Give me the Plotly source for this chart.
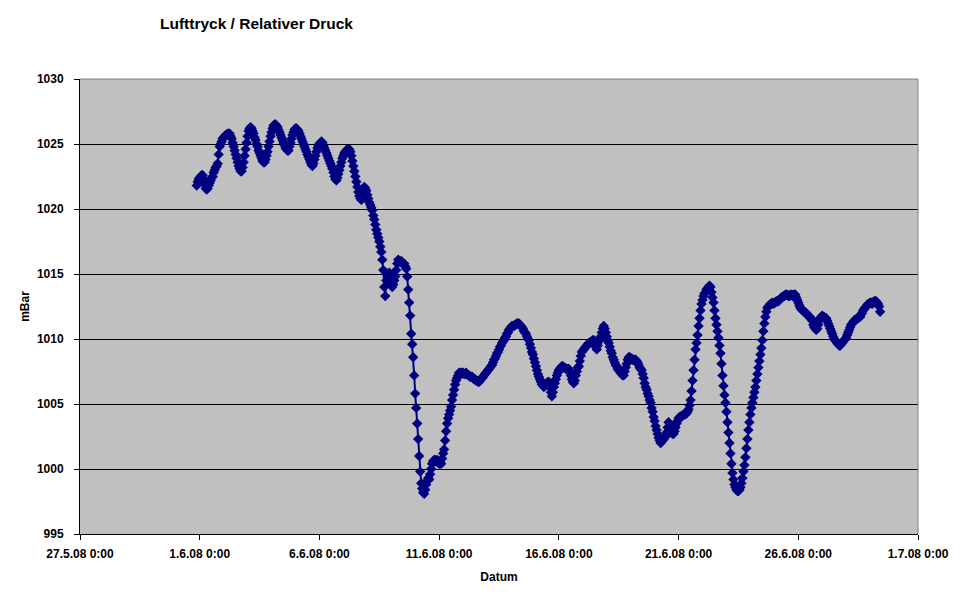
import pandas as pd
import plotly.graph_objects as go

# ---------------- text ----------------
chart_title = "Lufttryck / Relativer Druck"
x_title = "Datum"
y_title = "mBar"

# ---------------- axes ----------------
x_range = ["2008-05-27 00:00", "2008-07-01 00:00"]
x_tick0 = "2008-05-27 00:00"
x_tick_days = 5
y_ticks = [995, 1000, 1005, 1010, 1015, 1020, 1025, 1030]

# ---------------- data: hourly pressure readings (mBar), first reading 31.5.08 21:00 ----------------
series_start = "2008-05-31 21:00"
p_3105 = [1021.8, 1022.1, 1022.3]
p_0106 = [1022.4, 1022.5, 1022.6, 1022.6, 1022.3, 1021.9, 1021.6, 1021.5, 1021.6, 1021.8, 1022.0, 1022.2,
          1022.4, 1022.5, 1022.8, 1023.0, 1023.2, 1023.3, 1023.5, 1024.2, 1024.8, 1025.0, 1025.2, 1025.4]
p_0206 = [1025.5, 1025.6, 1025.7, 1025.7, 1025.8, 1025.8, 1025.8, 1025.6, 1025.4, 1025.1, 1024.8, 1024.5,
          1024.2, 1023.9, 1023.6, 1023.3, 1023.1, 1022.9, 1022.9, 1023.2, 1023.6, 1024.1, 1024.6, 1025.1]
p_0306 = [1025.6, 1026.0, 1026.2, 1026.3, 1026.2, 1026.0, 1025.8, 1025.5, 1025.3, 1025.0, 1024.8, 1024.5,
          1024.3, 1024.1, 1023.9, 1023.7, 1023.6, 1023.6, 1023.8, 1024.1, 1024.4, 1024.8, 1025.2, 1025.6]
p_0406 = [1025.9, 1026.2, 1026.4, 1026.5, 1026.5, 1026.4, 1026.3, 1026.1, 1025.9, 1025.7, 1025.5, 1025.3,
          1025.1, 1024.9, 1024.7, 1024.6, 1024.5, 1024.5, 1024.8, 1025.1, 1025.4, 1025.7, 1025.9, 1026.1]
p_0506 = [1026.2, 1026.2, 1026.1, 1026.0, 1025.8, 1025.6, 1025.4, 1025.2, 1025.0, 1024.8, 1024.6, 1024.4,
          1024.2, 1024.0, 1023.8, 1023.6, 1023.4, 1023.3, 1023.5, 1023.8, 1024.1, 1024.4, 1024.7, 1024.9]
p_0606 = [1025.0, 1025.1, 1025.2, 1025.1, 1024.9, 1024.7, 1024.5, 1024.3, 1024.1, 1023.9, 1023.7, 1023.5,
          1023.3, 1023.1, 1022.8, 1022.5, 1022.3, 1022.2, 1022.4, 1022.7, 1023.0, 1023.3, 1023.6, 1023.9]
p_0706 = [1024.1, 1024.3, 1024.4, 1024.5, 1024.6, 1024.6, 1024.6, 1024.4, 1024.1, 1023.7, 1023.3, 1022.9,
          1022.5, 1022.1, 1021.7, 1021.3, 1021.0, 1020.8, 1020.7, 1021.0, 1021.4, 1021.7, 1021.6, 1021.4]
p_0806 = [1021.1, 1020.8, 1020.5, 1020.3, 1020.1, 1019.9, 1019.5, 1019.2, 1018.8, 1018.4, 1018.1, 1017.8,
          1017.5, 1017.1, 1016.7, 1016.1, 1015.3, 1014.0, 1013.3, 1014.5, 1015.0, 1014.8, 1015.1, 1014.6]
p_0906 = [1014.2, 1014.0, 1014.2, 1014.5, 1014.8, 1015.3, 1015.8, 1016.1, 1016.0, 1015.9, 1016.0, 1015.9,
          1015.8, 1015.8, 1015.6, 1015.4, 1014.8, 1013.8, 1012.8, 1011.8, 1010.4, 1009.6, 1008.6, 1007.2]
p_1006 = [1005.8, 1004.7, 1003.5, 1002.3, 1001.0, 999.8, 998.9, 998.5, 998.2, 998.1, 998.4, 998.8,
          999.1, 999.3, 999.2, 999.6, 1000.0, 1000.4, 1000.6, 1000.7, 1000.7, 1000.6, 1000.7, 1000.5]
p_1106 = [1000.4, 1000.6, 1000.4, 1000.8, 1001.2, 1001.5, 1002.2, 1002.9, 1003.5, 1003.9, 1004.2, 1004.5,
          1004.8, 1005.3, 1005.7, 1006.1, 1006.5, 1006.8, 1007.0, 1007.2, 1007.4, 1007.4, 1007.3, 1007.4]
p_1206 = [1007.4, 1007.3, 1007.3, 1007.4, 1007.3, 1007.2, 1007.2, 1007.1, 1007.1, 1007.1, 1007.0, 1006.9,
          1006.9, 1006.8, 1006.8, 1006.7, 1006.7, 1006.8, 1006.9, 1007.0, 1007.1, 1007.2, 1007.3, 1007.4]
p_1306 = [1007.5, 1007.6, 1007.7, 1007.8, 1007.9, 1008.0, 1008.2, 1008.4, 1008.5, 1008.7, 1008.9, 1009.0,
          1009.2, 1009.4, 1009.5, 1009.7, 1009.8, 1009.9, 1010.1, 1010.2, 1010.4, 1010.5, 1010.7, 1010.8]
p_1406 = [1010.9, 1011.0, 1011.0, 1011.0, 1011.1, 1011.1, 1011.2, 1011.2, 1011.2, 1011.1, 1011.0, 1010.9,
          1010.8, 1010.6, 1010.5, 1010.4, 1010.2, 1010.0, 1009.9, 1009.6, 1009.3, 1009.0, 1008.8, 1008.5]
p_1506 = [1008.2, 1007.9, 1007.6, 1007.3, 1007.1, 1006.9, 1006.7, 1006.5, 1006.4, 1006.3, 1006.4, 1006.5,
          1006.6, 1006.7, 1006.7, 1006.3, 1005.9, 1005.6, 1005.9, 1006.3, 1006.6, 1006.9, 1007.2, 1007.4]
p_1606 = [1007.6, 1007.7, 1007.8, 1007.9, 1007.9, 1007.8, 1007.8, 1007.7, 1007.7, 1007.7, 1007.7, 1007.5,
          1007.2, 1006.9, 1006.7, 1006.6, 1006.8, 1007.2, 1007.5, 1007.8, 1007.9, 1008.3, 1008.7, 1009.0]
p_1706 = [1009.1, 1009.2, 1009.3, 1009.4, 1009.5, 1009.6, 1009.7, 1009.7, 1009.8, 1009.8, 1009.9, 1009.9,
          1009.6, 1009.4, 1009.2, 1009.5, 1009.8, 1010.0, 1010.2, 1010.5, 1010.8, 1011.0, 1010.8, 1010.5]
p_1806 = [1010.2, 1009.9, 1009.7, 1009.4, 1009.1, 1008.9, 1008.6, 1008.4, 1008.2, 1008.0, 1007.9, 1007.7,
          1007.6, 1007.5, 1007.4, 1007.3, 1007.2, 1007.2, 1007.5, 1007.8, 1008.1, 1008.4, 1008.6, 1008.6]
p_1906 = [1008.5, 1008.5, 1008.4, 1008.4, 1008.4, 1008.4, 1008.3, 1008.2, 1008.0, 1007.8, 1007.7, 1007.6,
          1007.3, 1007.0, 1006.6, 1006.3, 1006.1, 1005.8, 1005.6, 1005.3, 1005.1, 1004.7, 1004.4, 1004.0]
p_2006 = [1003.7, 1003.3, 1003.0, 1002.7, 1002.4, 1002.2, 1002.0, 1002.1, 1002.2, 1002.3, 1002.4, 1002.5,
          1002.8, 1003.2, 1003.6, 1003.3, 1003.0, 1002.8, 1002.7, 1002.7, 1002.9, 1003.2, 1003.5, 1003.7]
p_2106 = [1003.9, 1004.0, 1004.0, 1004.1, 1004.1, 1004.2, 1004.2, 1004.2, 1004.3, 1004.4, 1004.6, 1004.9,
          1005.3, 1006.0, 1006.8, 1007.6, 1008.4, 1009.2, 1009.7, 1010.3, 1011.0, 1011.6, 1012.2, 1012.7]
p_2206 = [1013.0, 1013.3, 1013.5, 1013.6, 1013.8, 1013.9, 1014.0, 1014.1, 1014.0, 1013.6, 1013.2, 1012.8,
          1012.2, 1011.6, 1011.1, 1010.6, 1010.1, 1009.5, 1008.9, 1008.1, 1007.2, 1006.4, 1005.7, 1005.1]
p_2306 = [1004.4, 1003.6, 1002.8, 1002.0, 1001.2, 1000.4, 999.7, 999.2, 998.8, 998.6, 998.4, 998.3,
          998.3, 998.4, 998.6, 998.9, 999.3, 999.8, 1000.3, 1000.9, 1001.6, 1002.3, 1003.0, 1003.6]
p_2406 = [1004.2, 1004.7, 1005.1, 1005.5, 1005.9, 1006.3, 1006.8, 1007.3, 1007.8, 1008.3, 1008.8, 1009.3,
          1009.9, 1010.6, 1011.2, 1011.7, 1012.1, 1012.4, 1012.5, 1012.6, 1012.7, 1012.7, 1012.8, 1012.7]
p_2506 = [1012.8, 1012.8, 1012.9, 1012.9, 1012.9, 1013.0, 1013.1, 1013.2, 1013.2, 1013.3, 1013.3, 1013.4,
          1013.4, 1013.4, 1013.3, 1013.3, 1013.4, 1013.4, 1013.3, 1013.4, 1013.4, 1013.4, 1013.2, 1013.0]
p_2606 = [1012.8, 1012.6, 1012.4, 1012.3, 1012.2, 1012.2, 1012.1, 1012.0, 1012.0, 1011.9, 1011.8, 1011.7,
          1011.6, 1011.6, 1011.4, 1011.1, 1010.9, 1010.8, 1010.7, 1010.8, 1011.1, 1011.4, 1011.6, 1011.7]
p_2706 = [1011.8, 1011.7, 1011.7, 1011.6, 1011.6, 1011.4, 1011.2, 1011.0, 1010.8, 1010.6, 1010.4, 1010.2,
          1010.0, 1009.9, 1009.8, 1009.7, 1009.6, 1009.5, 1009.5, 1009.6, 1009.7, 1009.8, 1009.9, 1010.0]
p_2806 = [1010.1, 1010.3, 1010.5, 1010.7, 1010.9, 1011.1, 1011.2, 1011.3, 1011.4, 1011.5, 1011.5, 1011.6,
          1011.6, 1011.7, 1011.7, 1011.9, 1012.0, 1012.2, 1012.3, 1012.4, 1012.5, 1012.6, 1012.7, 1012.7]
p_2906 = [1012.8, 1012.8, 1012.7, 1012.8, 1012.9, 1012.9, 1012.9, 1012.8, 1012.7, 1012.5, 1012.1]

daily = [p_3105, p_0106, p_0206, p_0306, p_0406, p_0506, p_0606, p_0706, p_0806, p_0906,
         p_1006, p_1106, p_1206, p_1306, p_1406, p_1506, p_1606, p_1706, p_1806, p_1906,
         p_2006, p_2106, p_2206, p_2306, p_2406, p_2506, p_2606, p_2706, p_2806, p_2906]
pressure = [v for day in daily for v in day]
times = pd.date_range(start=series_start, periods=len(pressure), freq="h")

# ---------------- styles ----------------
FONT = "Liberation Sans, Arial, Helvetica, sans-serif"
NAVY = "#000080"
PLOT_BG = "#C0C0C0"
FRAME_GRAY = "#808080"
FIG_W, FIG_H = 962, 596  # page body adds an 8 px margin

fig = go.Figure()
fig.add_trace(go.Scatter(
    x=times, y=pressure, mode="lines+markers",
    line=dict(color=NAVY, width=2),
    marker=dict(symbol="diamond", size=8, color=NAVY, line=dict(width=0)),
    showlegend=False, hoverinfo="x+y",
))

fig.update_layout(
    width=FIG_W, height=FIG_H,
    margin=dict(l=72, r=52, t=71, b=70),
    paper_bgcolor="white",
    plot_bgcolor=PLOT_BG,
    font=dict(family=FONT, size=12, color="black", weight=700),
    title=dict(text=chart_title, xref="container", yref="container",
               x=152 / FIG_W, xanchor="left", y=1 - 16 / FIG_H, yanchor="middle",
               font=dict(family=FONT, size=15.5, color="black", weight=700)),
    # grey plot-area frame on the top and right sides
    shapes=[dict(type="path", xref="paper", yref="paper", path="M 0 1 L 1 1 L 1 0",
                 line=dict(color=FRAME_GRAY, width=1), layer="above")],
)

fig.update_xaxes(
    type="date", range=x_range, tick0=x_tick0, dtick=x_tick_days * 86400000,
    tickformat="%-d.%-m.%y %-H:%M",
    showgrid=False, zeroline=False,
    showline=True, linecolor="black", linewidth=1,
    ticks="outside", ticklen=5, tickcolor="black", tickwidth=1,
    ticklabelstandoff=4,
    tickfont=dict(family=FONT, size=12, color="black", weight=700),
    title=dict(text=x_title, standoff=12, font=dict(family=FONT, size=12, color="black", weight=700)),
)
fig.update_yaxes(
    range=[y_ticks[0], y_ticks[-1]], tickvals=y_ticks,
    showgrid=True, gridcolor="black", gridwidth=1, zeroline=False,
    showline=True, linecolor="black", linewidth=1,
    ticks="outside", ticklen=5, tickcolor="black", tickwidth=1,
    ticklabelstandoff=8,
    tickfont=dict(family=FONT, size=12, color="black", weight=700),
    title=dict(text=y_title, standoff=4, font=dict(family=FONT, size=12, color="black", weight=700)),
)

fig.write_html("out.html")
